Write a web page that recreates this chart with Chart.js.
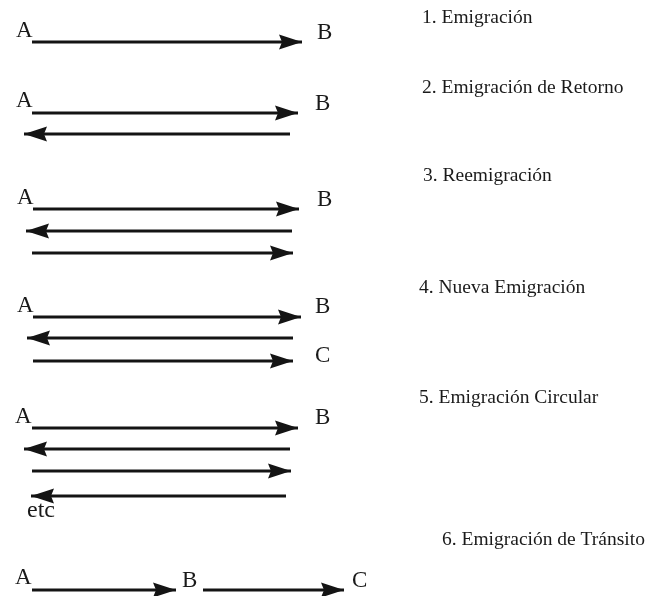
<!DOCTYPE html>
<html>
<head>
<meta charset="utf-8">
<script src="https://cdn.jsdelivr.net/npm/chart.js@4.4.1/dist/chart.umd.min.js"></script>
<style>
  body { margin: 0; background: #fff; }
  #caja { width: 648px; height: 596px; }
</style>
</head>
<body>
<div id="caja"><canvas id="grafica" width="648" height="596"></canvas></div>
<script>
// flechas: fila, inicio, fin (la punta va en el fin)
var flechaY      = [42, 113, 134, 209, 231, 253, 317, 338, 361, 428, 449, 471, 496, 590, 590];
var flechaInicio = [32, 32, 290, 33, 292, 32, 33, 293, 33, 32, 290, 32, 286, 32, 203];
var flechaFin    = [302, 298, 24, 299, 26, 293, 301, 27, 293, 298, 24, 291, 31, 176, 344];

// letras de los lugares
var letras  = ['A', 'B', 'A', 'B', 'A', 'B', 'A', 'B', 'C', 'A', 'B', 'etc', 'A', 'B', 'C'];
var letrasX = [16, 317, 16, 315, 17, 317, 17, 315, 315, 15, 315, 27, 15, 182, 352];
var letrasY = [37, 39, 107, 110, 204, 206, 312, 313, 362, 423, 424, 517, 584, 587, 587];

// titulos de cada tipo
var titulos  = ['1. Emigración', '2. Emigración de Retorno', '3. Reemigración',
                '4. Nueva Emigración', '5. Emigración Circular', '6. Emigración de Tránsito'];
var titulosX = [422, 422, 423, 419, 419, 442];
var titulosY = [23, 93, 181, 293, 403, 545];

var fuente = '"Liberation Serif", "Times New Roman", serif';

var conjuntos = [];
for (var i = 0; i < flechaY.length; i++) {
    conjuntos.push({
        data: [{x: flechaInicio[i], y: flechaY[i]}, {x: flechaFin[i], y: flechaY[i]}],
        showLine: true,
        borderColor: '#141414',
        borderWidth: 3,
        pointRadius: 0
    });
}

var puntas = {
    id: 'puntas',
    afterDatasetsDraw: function (chart) {
        var ctx = chart.ctx;
        ctx.save();
        ctx.fillStyle = '#141414';
        chart.data.datasets.forEach(function (ds, i) {
            var pts = chart.getDatasetMeta(i).data;
            var a = pts[0], b = pts[1];
            var dir = b.x > a.x ? 1 : -1;
            ctx.beginPath();
            ctx.moveTo(b.x, b.y);
            ctx.lineTo(b.x - dir * 23, b.y - 7.5);
            ctx.lineTo(b.x - dir * 20, b.y);
            ctx.lineTo(b.x - dir * 23, b.y + 7.5);
            ctx.closePath();
            ctx.fill();
        });
        ctx.restore();
    }
};

var textos = {
    id: 'textos',
    afterDraw: function (chart) {
        var ctx = chart.ctx;
        var sx = chart.scales.x, sy = chart.scales.y;
        ctx.save();
        ctx.fillStyle = '#1a1a1a';
        ctx.textBaseline = 'alphabetic';
        ctx.textAlign = 'left';
        letras.forEach(function (t, i) {
            ctx.font = (t === 'etc' ? '24px ' : '23px ') + fuente;
            ctx.fillText(t, sx.getPixelForValue(letrasX[i]), sy.getPixelForValue(letrasY[i]));
        });
        ctx.font = '19.5px ' + fuente;
        titulos.forEach(function (t, i) {
            ctx.fillText(t, sx.getPixelForValue(titulosX[i]), sy.getPixelForValue(titulosY[i]));
        });
        ctx.restore();
    }
};

var mychart = new Chart(document.getElementById('grafica'), {
    type: 'scatter',
    data: { datasets: conjuntos },
    options: {
        responsive: false,
        animation: false,
        layout: { padding: 0 },
        plugins: { legend: { display: false }, tooltip: { enabled: false } },
        scales: {
            x: { display: false, min: 0, max: 648 },
            y: { display: false, min: 0, max: 596, reverse: true }
        }
    },
    plugins: [puntas, textos]
});
</script>
</body>
</html>
